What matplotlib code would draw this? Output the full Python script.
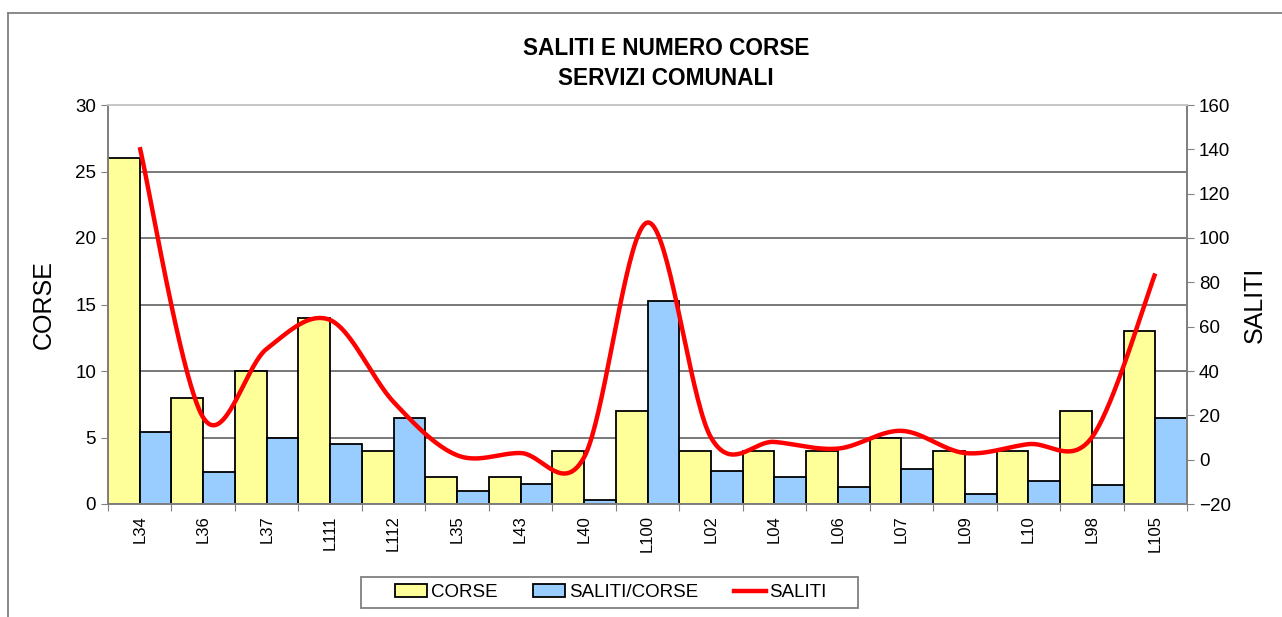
import numpy as np
import matplotlib.pyplot as plt
from matplotlib.patches import Patch, Rectangle
from matplotlib.lines import Line2D

plt.rcParams['font.family'] = ['Liberation Sans', 'DejaVu Sans']

linee = ["L34", "L36", "L37", "L111", "L112", "L35", "L43", "L40", "L100",
         "L02", "L04", "L06", "L07", "L09", "L10", "L98", "L105"]
corse = [26, 8, 10, 14, 4, 2, 2, 4, 7, 4, 4, 4, 5, 4, 4, 7, 13]
saliti_corse = [5.42, 2.4, 5.0, 4.5, 6.5, 1.0, 1.5, 0.3, 15.27, 2.5, 2.0, 1.25,
                2.63, 0.75, 1.75, 1.45, 6.46]
saliti = [141, 19, 50, 63, 26, 2, 3, 1, 107, 10, 8, 5, 13, 3, 7, 10, 84]


def smooth(x, y, n=40):
    # curva smussata tipo Excel (Bezier Catmull-Rom)
    p = np.column_stack([x, y]).astype(float)
    out = []
    for i in range(len(p) - 1):
        p0 = p[max(i - 1, 0)]
        p1 = p[i]
        p2 = p[i + 1]
        p3 = p[min(i + 2, len(p) - 1)]
        c1 = p1 + (p2 - p0) / 6
        c2 = p2 - (p3 - p1) / 6
        t = np.linspace(0, 1, n)[:, None]
        out.append((1 - t) ** 3 * p1 + 3 * (1 - t) ** 2 * t * c1
                   + 3 * (1 - t) * t ** 2 * c2 + t ** 3 * p2)
    return np.vstack(out)


W, H = 1282, 617
fig = plt.figure(figsize=(W / 100, H / 100), dpi=100)
ax = fig.add_axes([108 / W, 1 - 504 / H, (1187 - 108) / W, (504 - 105) / H])

x = np.arange(len(linee))
bw = 0.5
ax.bar(x - bw / 2, corse, width=bw, color="#FFFF99", edgecolor="black", lw=1.3, zorder=2)
ax.bar(x + bw / 2, saliti_corse, width=bw, color="#99CCFF", edgecolor="black", lw=1.3, zorder=2)

ax.set_xlim(-0.5, len(linee) - 0.5)
ax.set_ylim(0, 30)
ax.set_yticks(range(0, 31, 5))
ax.set_xticks(np.arange(len(linee) + 1) - 0.5)
ax.set_xticklabels([])
ax.set_xticks(x, minor=True)
ax.set_xticklabels(linee, minor=True, rotation=90, fontsize=12, va="top")
ax.tick_params(axis="x", which="minor", length=0, pad=8)
ax.tick_params(axis="x", which="major", length=5, color="#808080")
ax.tick_params(axis="y", length=5, color="#808080", labelsize=13.5)
ax.grid(axis="y", color="#555555", lw=1.1)
ax.set_axisbelow(True)
ax.set_ylabel("CORSE", fontsize=18, labelpad=14)
for s in ax.spines.values():
    s.set_color("#808080")
    s.set_linewidth(1.3)
ax.spines["top"].set_color("#c8c8c8")

ax2 = ax.twinx()
ax2.set_ylim(-20, 160)
ax2.set_yticks(range(-20, 161, 20))
ax2.tick_params(axis="y", length=5, color="#808080", labelsize=13.5)
curve = smooth(x, saliti)
ax2.plot(curve[:, 0], curve[:, 1], color="#FF0000", lw=3.2, zorder=3,
         solid_capstyle="butt")
ax2.set_ylabel("SALITI", fontsize=18, labelpad=9)
for s in ax2.spines.values():
    s.set_color("#808080")
    s.set_linewidth(1.3)
ax2.spines["top"].set_color("#c8c8c8")

fig.text(666 / W, 1 - 37 / H, "SALITI E NUMERO CORSE\nSERVIZI COMUNALI",
         ha="center", va="top", fontsize=16.3, fontweight="bold", linespacing=1.4)

handles = [Patch(facecolor="#FFFF99", edgecolor="black", lw=1.3),
           Patch(facecolor="#99CCFF", edgecolor="black", lw=1.3),
           Line2D([0], [0], color="#FF0000", lw=3.2)]
leg = fig.legend(handles, ["CORSE", "SALITI/CORSE", "SALITI"], ncol=3,
                 loc="center", bbox_to_anchor=(611 / W, 1 - 592.5 / H),
                 fontsize=13.5, frameon=False,
                 handlelength=1.7, handletextpad=0.2, columnspacing=1.9,
                 borderpad=0.35)
fig.add_artist(Rectangle((361 / W, 1 - 608 / H), (858 - 361) / W, 31 / H,
                         transform=fig.transFigure, fill=False,
                         edgecolor="#808080", lw=1.3))

fig.add_artist(Line2D([8 / W, 8 / W], [0, 1 - 13 / H], color="#808080", lw=1.3))
fig.add_artist(Line2D([8 / W, 1], [1 - 13 / H, 1 - 13 / H], color="#808080", lw=1.3))

fig.savefig("out.png", dpi=100)
